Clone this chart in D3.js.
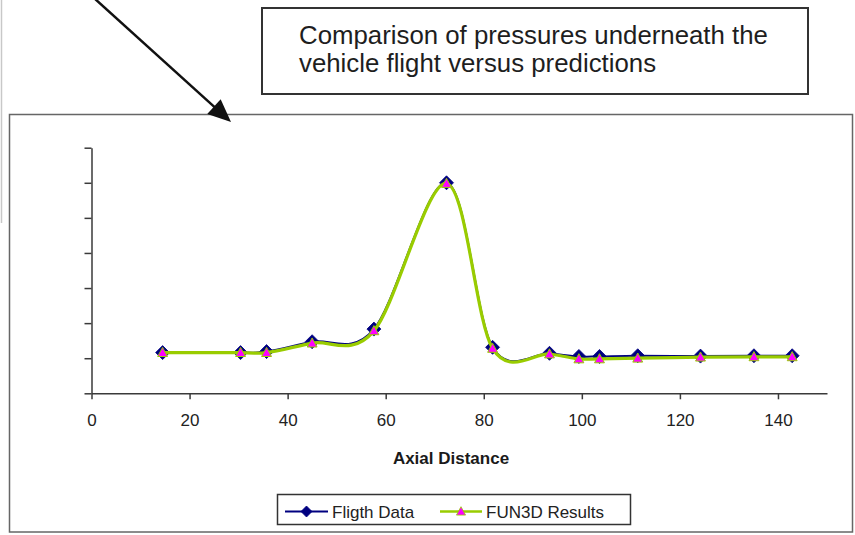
<!DOCTYPE html>
<html>
<head>
<meta charset="utf-8">
<script src="https://cdn.jsdelivr.net/npm/d3@7"></script>
<style>
  html, body { margin: 0; padding: 0; background: #fff; }
  svg { display: block; font-family: "Liberation Sans", Arial, Helvetica, sans-serif; }
</style>
</head>
<body>
<svg id="chart" width="855" height="535"></svg>
<script>
// Axial stations where pressure was sampled
const axialDistance = [14.5, 30.4, 35.7, 45.0, 57.6, 72.4, 81.8, 93.4, 99.4, 103.6, 111.4, 124.2, 135.1, 142.9];
// Measured flight pressures
const flightData   = [1.16, 1.16, 1.19, 1.47, 1.83, 6.00, 1.31, 1.14, 1.05, 1.05, 1.07, 1.06, 1.07, 1.07];
// FUN3D predictions at the same stations
const fun3dResults = [1.16, 1.16, 1.16, 1.43, 1.78, 5.98, 1.28, 1.12, 0.98, 0.98, 1.00, 1.03, 1.04, 1.04];
// Axis ticks
const xTicks = [0, 20, 40, 60, 80, 100, 120, 140];
const yTicks = [0, 1, 2, 3, 4, 5, 6, 7];
const seriesNames = ["Fligth Data", "FUN3D Results"];
const titleLines = ["Comparison of pressures underneath the", "vehicle flight versus predictions"];
const xAxisTitle = "Axial Distance";

const NAVY = "#000080", GREEN = "#99CC00", MAGENTA = "#FF00FF", AXIS = "#3a3a3a";

const svg = d3.select("#chart");

// faint frame edge on the far left
svg.append("line").attr("x1", 1.5).attr("x2", 1.5).attr("y1", 0).attr("y2", 223)
  .attr("stroke", "#c8c8c8").attr("stroke-width", 1.5);

// chart area frame
svg.append("rect").attr("x", 9.5).attr("y", 114.5).attr("width", 843).attr("height", 417.5)
  .attr("fill", "#fff").attr("stroke", "#666").attr("stroke-width", 1.5);

// callout box with the caption
svg.append("rect").attr("x", 262).attr("y", 8).attr("width", 546).attr("height", 86)
  .attr("fill", "#fff").attr("stroke", "#333").attr("stroke-width", 2);
svg.append("g").selectAll("text").data(titleLines).join("text")
  .attr("x", 299).attr("y", (d, i) => 43.5 + i * 28.5)
  .attr("font-size", 25.8).attr("fill", "#1e1e1e")
  .text(d => d);

// callout arrow pointing at the chart
(function () {
  const x0 = 94, y0 = -2, tx = 231, ty = 122;
  const len = Math.hypot(tx - x0, ty - y0);
  const ux = (tx - x0) / len, uy = (ty - y0) / len;
  const head = 23, half = 10;
  const bx = tx - head * ux, by = ty - head * uy;
  svg.append("line").attr("x1", x0).attr("y1", y0).attr("x2", bx + 2 * ux).attr("y2", by + 2 * uy)
    .attr("stroke", "#111").attr("stroke-width", 2.5);
  svg.append("path")
    .attr("d", `M${tx},${ty}L${bx - half * uy},${by + half * ux}L${bx + half * uy},${by - half * ux}Z`)
    .attr("fill", "#111");
})();

// scales
const x = d3.scaleLinear().domain([0, 150]).range([91.5, 827]);
const y = d3.scaleLinear().domain([0, 7]).range([393.3, 147.7]);

// y axis: ticks only, no labels
const yAxis = svg.append("g").attr("transform", `translate(${x(0)},0)`)
  .call(d3.axisLeft(y).tickValues(yTicks).tickSize(7).tickSizeOuter(0).tickFormat(""));
yAxis.select(".domain").attr("stroke", AXIS).attr("stroke-width", 1.5);
yAxis.selectAll(".tick line").attr("stroke", AXIS).attr("stroke-width", 1.5);

// x axis
const xAxis = svg.append("g").attr("transform", `translate(0,${y(0)})`)
  .call(d3.axisBottom(x).tickValues(xTicks).tickSize(6).tickSizeOuter(0).tickPadding(15));
xAxis.select(".domain").attr("stroke", AXIS).attr("stroke-width", 1.5);
xAxis.selectAll(".tick line").attr("stroke", AXIS).attr("stroke-width", 1.5);
xAxis.selectAll(".tick text").attr("font-size", 17).attr("fill", "#222")
  .attr("font-family", "'Liberation Sans', Arial, sans-serif");

svg.append("text").attr("x", 451).attr("y", 464).attr("text-anchor", "middle")
  .attr("font-size", 17).attr("font-weight", "bold").attr("fill", "#1a1a1a")
  .text(xAxisTitle);

// smoothed series lines
const line = d3.line().curve(d3.curveCardinal.tension(0)).x(d => x(d[0])).y(d => y(d[1]));
const flightPts = axialDistance.map((d, i) => [d, flightData[i]]);
const cfdPts = axialDistance.map((d, i) => [d, fun3dResults[i]]);

const diamond = r => `M0,${-r}L${r},0L0,${r}L${-r},0Z`;
const triangle = r => `M0,${-r}L${r * 0.95},${r * 0.75}L${-r * 0.95},${r * 0.75}Z`;

svg.append("path").datum(flightPts).attr("d", line)
  .attr("fill", "none").attr("stroke", NAVY).attr("stroke-width", 2);
svg.append("g").selectAll("path").data(flightPts).join("path")
  .attr("transform", d => `translate(${x(d[0])},${y(d[1])})`)
  .attr("d", diamond(7)).attr("fill", NAVY).attr("stroke", NAVY).attr("stroke-width", 0.8);

svg.append("path").datum(cfdPts).attr("d", line)
  .attr("fill", "none").attr("stroke", GREEN).attr("stroke-width", 3.2);
svg.append("g").selectAll("path").data(cfdPts).join("path")
  .attr("transform", d => `translate(${x(d[0])},${y(d[1])})`)
  .attr("d", triangle(5.2)).attr("fill", MAGENTA).attr("stroke", GREEN).attr("stroke-width", 1);

// legend
const lg = svg.append("g");
lg.append("rect").attr("x", 277.5).attr("y", 494.5).attr("width", 353).attr("height", 30)
  .attr("fill", "#fff").attr("stroke", "#333").attr("stroke-width", 1.5);
const legendItems = [
  { name: seriesNames[0], x1: 285, x2: 328, color: NAVY, w: 2, marker: diamond(5.5), mfill: NAVY, mstroke: NAVY, tx: 332 },
  { name: seriesNames[1], x1: 440, x2: 482, color: GREEN, w: 2.5, marker: triangle(4.8), mfill: MAGENTA, mstroke: GREEN, tx: 486 }
];
legendItems.forEach(it => {
  lg.append("line").attr("x1", it.x1).attr("x2", it.x2).attr("y1", 511.5).attr("y2", 511.5)
    .attr("stroke", it.color).attr("stroke-width", it.w);
  lg.append("path").attr("transform", `translate(${(it.x1 + it.x2) / 2},511.5)`)
    .attr("d", it.marker).attr("fill", it.mfill).attr("stroke", it.mstroke).attr("stroke-width", 0.8);
  lg.append("text").attr("x", it.tx).attr("y", 518).attr("font-size", 17).attr("fill", "#222").text(it.name);
});
</script>
</body>
</html>
